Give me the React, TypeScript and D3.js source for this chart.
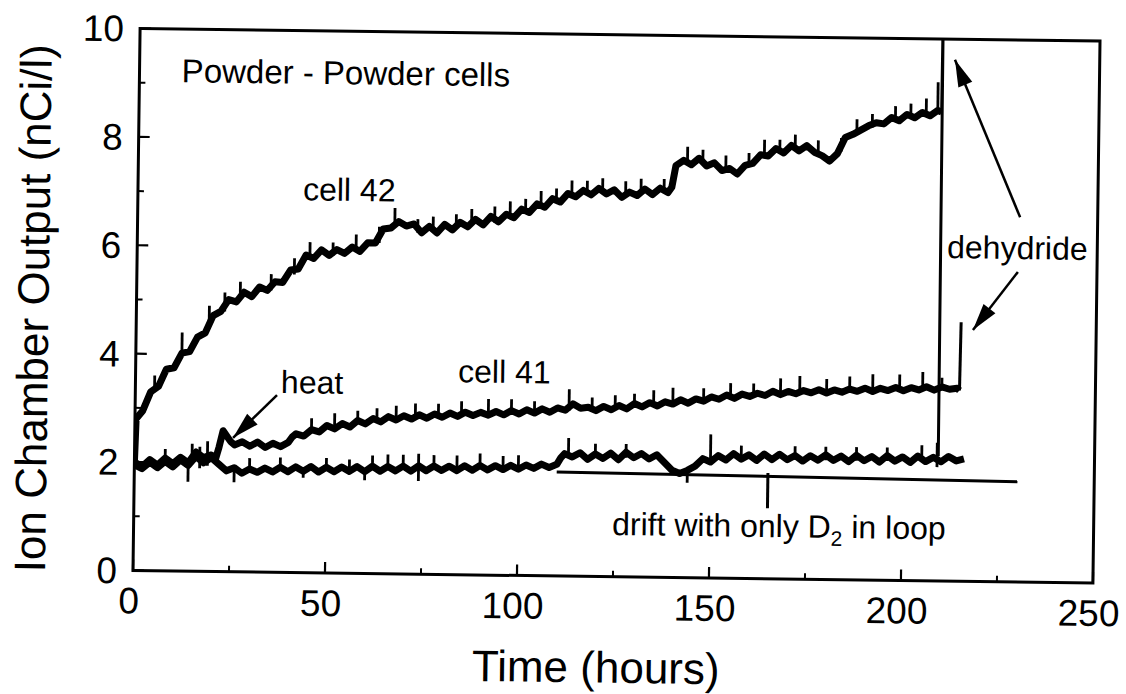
import * as d3 from "d3";

// axis ticks
const X_TICKS = [0, 50, 100, 150, 200, 250];
const X_MINOR = [25, 75, 125, 175, 225];
const Y_TICKS = [0, 2, 4, 6, 8, 10];
const Y_MINOR = [1, 3, 5, 7, 9];

// [time (h), output (nCi/l)]
const cell42 = [
  [0, 2.0], [0.3, 2.8], [2, 2.95], [4, 3.3], [6, 3.4], [8, 3.72], [10, 3.75], [12, 4.02], [14, 4.05],
  [16, 4.32], [18, 4.4], [20, 4.72], [22, 4.8], [24, 5.02], [26, 4.98], [28, 5.16], [30, 5.08],
  [32, 5.26], [34, 5.2], [36, 5.36], [38, 5.35], [40, 5.58], [42, 5.6], [44, 5.86], [46, 5.8],
  [48, 5.96], [50, 5.86], [52, 5.97], [54, 5.9], [56, 6.02], [58, 5.94], [60, 6.1], [62, 6.1],
  [64, 6.36], [66, 6.38], [68, 6.5], [70, 6.42], [72, 6.46], [74, 6.3], [76, 6.42], [78, 6.3],
  [80, 6.46], [82, 6.36], [84, 6.5], [86, 6.42], [88, 6.56], [90, 6.46], [92, 6.62], [94, 6.52],
  [96, 6.66], [98, 6.6], [100, 6.76], [102, 6.7], [104, 6.86], [106, 6.8], [108, 6.96], [110, 6.9],
  [112, 7.06], [114, 7.0], [116, 7.12], [118, 7.04], [120, 7.16], [122, 7.06], [124, 7.14],
  [126, 7.0], [128, 7.1], [130, 7.04], [132, 7.16], [134, 7.06], [136, 7.18], [138, 7.1],
  [139, 7.2], [140, 7.6], [142, 7.7], [144, 7.62], [146, 7.74], [148, 7.6], [150, 7.66],
  [152, 7.52], [154, 7.56], [156, 7.46], [158, 7.62], [160, 7.66], [162, 7.82], [164, 7.8],
  [166, 7.94], [168, 7.86], [170, 8.0], [172, 7.9], [174, 8.0], [176, 7.88], [178, 7.82],
  [180, 7.72], [182, 7.86], [184, 8.16], [186, 8.22], [188, 8.3], [190, 8.38], [192, 8.44],
  [194, 8.42], [196, 8.54], [198, 8.48], [200, 8.6], [202, 8.54], [204, 8.64], [206, 8.58],
  [208, 8.68], [209, 8.65],
];
// cell 42 dehydride: off scale, then back down to the baseline
const cell42Dehydride = [[209, 8.65], [209.1, 10.6], [209.3, 2.3]];

const cell41 = [
  [0, 2.0], [2, 1.92], [4, 2.05], [6, 1.95], [8, 2.08], [10, 1.98], [12, 2.1], [14, 2.0], [16, 2.2],
  [18, 2.1], [20, 2.15], [21, 2.05], [22, 2.3], [23, 2.6], [24, 2.5], [25, 2.4], [26, 2.34],
  [28, 2.4], [30, 2.32], [32, 2.4], [34, 2.3], [36, 2.38], [38, 2.32], [40, 2.4], [41, 2.5],
  [42, 2.56], [44, 2.52], [46, 2.64], [48, 2.6], [50, 2.72], [52, 2.66], [54, 2.76], [56, 2.7],
  [58, 2.82], [60, 2.76], [62, 2.86], [64, 2.8], [66, 2.9], [68, 2.84], [70, 2.92], [72, 2.86],
  [74, 2.94], [76, 2.88], [78, 2.96], [80, 2.9], [82, 2.98], [84, 2.92], [86, 3.0], [88, 2.94],
  [90, 3.0], [92, 2.95], [94, 3.02], [96, 2.96], [98, 3.04], [100, 2.98], [102, 3.06], [104, 3.0],
  [106, 3.08], [108, 3.02], [110, 3.1], [112, 3.06], [114, 3.18], [116, 3.1], [118, 3.12],
  [120, 3.06], [122, 3.14], [124, 3.08], [126, 3.16], [128, 3.1], [130, 3.2], [132, 3.14],
  [134, 3.22], [136, 3.16], [138, 3.24], [140, 3.2], [142, 3.28], [144, 3.22], [146, 3.3],
  [148, 3.26], [150, 3.34], [152, 3.3], [154, 3.38], [156, 3.32], [158, 3.4], [160, 3.36],
  [162, 3.42], [164, 3.38], [166, 3.46], [168, 3.4], [170, 3.46], [172, 3.42], [174, 3.48],
  [176, 3.44], [178, 3.5], [180, 3.44], [182, 3.5], [184, 3.46], [186, 3.52], [188, 3.48],
  [190, 3.54], [192, 3.48], [194, 3.54], [196, 3.5], [198, 3.56], [200, 3.5], [202, 3.56],
  [204, 3.52], [206, 3.58], [208, 3.52], [210, 3.58], [212, 3.54], [214, 3.56], [214.6, 3.52],
];
const cell41Dehydride = [[214.6, 3.52], [214.8, 4.78]];

const baseline = [
  [0, 1.95], [2, 1.88], [4, 2.0], [6, 1.9], [8, 2.02], [10, 1.92], [12, 2.05], [14, 1.95],
  [16, 2.12], [18, 2.0], [20, 2.1], [22, 1.98], [24, 1.86], [26, 1.92], [28, 1.82], [30, 1.9],
  [32, 1.84], [34, 1.92], [36, 1.85], [38, 1.94], [40, 1.86], [42, 1.95], [44, 1.87], [46, 1.96],
  [48, 1.86], [50, 1.95], [52, 1.87], [54, 1.96], [56, 1.88], [58, 1.97], [60, 1.88], [62, 1.98],
  [64, 1.89], [66, 1.98], [68, 1.9], [70, 1.99], [72, 1.9], [74, 2.0], [76, 1.91], [78, 2.0],
  [80, 1.92], [82, 2.0], [84, 1.92], [86, 2.01], [88, 1.93], [90, 2.02], [92, 1.94], [94, 2.02],
  [96, 1.95], [98, 2.03], [100, 1.96], [102, 2.04], [104, 1.98], [106, 2.06], [108, 2.0],
  [110, 2.06], [111, 2.18], [112, 2.26], [114, 2.2], [116, 2.28], [118, 2.16], [120, 2.26],
  [122, 2.18], [124, 2.28], [126, 2.16], [128, 2.3], [130, 2.2], [132, 2.28], [134, 2.18],
  [136, 2.26], [138, 2.12], [140, 1.98], [142, 1.92], [144, 1.98], [146, 2.06], [148, 2.2],
  [150, 2.14], [152, 2.26], [154, 2.18], [156, 2.3], [158, 2.2], [160, 2.28], [162, 2.18],
  [164, 2.3], [166, 2.2], [168, 2.3], [170, 2.2], [172, 2.28], [174, 2.18], [176, 2.28],
  [178, 2.2], [180, 2.3], [182, 2.2], [184, 2.28], [186, 2.18], [188, 2.3], [190, 2.2],
  [192, 2.28], [194, 2.18], [196, 2.3], [198, 2.2], [200, 2.28], [202, 2.18], [204, 2.3],
  [206, 2.2], [208, 2.28], [210, 2.2], [212, 2.3], [214, 2.22], [216, 2.26],
];

// short noise spikes: [time, low, high]
const spikes42 = [
  [5, 3.3, 3.6], [12, 4.0, 4.4], [19, 4.5, 4.9], [23, 4.8, 5.15], [27, 5.05, 5.35], [35, 5.2, 5.5],
  [41, 5.5, 5.8], [45, 5.8, 6.1], [51, 5.85, 6.1], [57, 5.95, 6.25], [63, 6.1, 6.4],
  [67, 6.4, 6.75], [73, 6.3, 6.55], [77, 6.35, 6.6], [83, 6.4, 6.65], [87, 6.45, 6.75],
  [93, 6.5, 6.8], [97, 6.6, 6.9], [101, 6.7, 6.95], [105, 6.8, 7.1], [109, 6.9, 7.15],
  [113, 7.0, 7.3], [117, 7.05, 7.3], [121, 7.1, 7.35], [127, 7.05, 7.3], [131, 7.05, 7.35],
  [137, 7.1, 7.35], [143, 7.65, 7.95], [147, 7.65, 7.9], [153, 7.5, 7.8], [159, 7.6, 7.85],
  [163, 7.8, 8.1], [167, 7.85, 8.1], [171, 7.95, 8.2], [177, 7.85, 8.1], [183, 7.9, 8.15],
  [187, 8.25, 8.5], [191, 8.35, 8.6], [197, 8.5, 8.75], [201, 8.55, 8.8], [205, 8.6, 8.9],
  [208, 8.65, 9.2],
];
const spikes41 = [
  [46, 2.6, 2.85], [52, 2.7, 2.95], [58, 2.75, 3.0], [63, 2.8, 3.05], [68, 2.85, 3.1],
  [73, 2.9, 3.15], [79, 2.9, 3.15], [85, 2.95, 3.2], [92, 2.95, 3.25], [98, 3.0, 3.25],
  [104, 3.0, 3.22], [113, 3.05, 3.45], [119, 3.08, 3.3], [125, 3.1, 3.35], [130, 3.15, 3.38],
  [135, 3.15, 3.45], [140, 3.2, 3.5], [148, 3.25, 3.5], [155, 3.3, 3.6], [161, 3.35, 3.6],
  [168, 3.4, 3.7], [173, 3.4, 3.75], [180, 3.45, 3.7], [186, 3.45, 3.75], [192, 3.5, 3.8],
  [199, 3.5, 3.8], [205, 3.5, 3.85], [210, 3.52, 3.75],
];
const spikesBase = [
  [8, 1.95, 2.25], [15, 2.0, 2.35], [17, 1.9, 2.3], [19, 1.95, 2.4], [14, 1.65, 1.95],
  [26, 1.65, 1.9], [30, 1.85, 2.1], [38, 1.9, 2.12], [44, 1.75, 1.95], [50, 1.9, 2.12],
  [56, 1.9, 2.1], [60, 1.72, 1.9], [62, 1.92, 2.18], [66, 1.92, 2.2], [70, 1.95, 2.2],
  [74, 1.72, 2.22], [78, 1.95, 2.2], [84, 1.95, 2.2], [90, 1.98, 2.24], [96, 1.98, 2.2],
  [100, 1.98, 2.22], [113, 2.2, 2.55], [120, 2.2, 2.45], [128, 2.2, 2.45], [144, 1.75, 1.95],
  [150, 2.15, 2.65], [158, 2.2, 2.45], [172, 2.2, 2.45], [180, 2.2, 2.45], [188, 2.2, 2.45],
  [196, 2.2, 2.45], [205, 2.2, 2.5], [209, 2.1, 2.55],
];

// straight drift line with only D2 in the loop
const drift = [[110, 1.92], [230, 1.85]];
const driftPointer = [[165, 1.95], [165, 1.3]];

// annotation arrows: [tail, tip]
const arrows = [
  { from: [36.9, 3.27], to: [25.6, 2.47] },
  { from: [229.8, 6.73], to: [212.3, 9.62] },
  { from: [229.4, 5.72], to: [217.9, 4.64] },
];

const labels = [
  { text: "Powder - Powder cells", t: 11, v: 9.02 },
  { text: "cell 42", t: 43, v: 6.87 },
  { text: "heat", t: 37.9, v: 3.31 },
  { text: "cell 41", t: 84, v: 3.55 },
  { text: "dehydride", t: 210.9, v: 5.96 },
];

const W = 1126;
const H = 694;
const frame = { left: 136.5, right: 1096.5, top: 34.75, bottom: 576.75 };
const TILT = 0.75; // the scan is slightly rotated
const FONT = "'Liberation Sans', Arial, Helvetica, sans-serif";

export default function App() {
  const x = d3.scaleLinear().domain([0, 250]).range([frame.left, frame.right]);
  const y = d3.scaleLinear().domain([0, 10]).range([frame.bottom, frame.top]);
  const line = d3.line<number[]>().x((d) => x(d[0])).y((d) => y(d[1]));
  const cx = (frame.left + frame.right) / 2;
  const cy = (frame.top + frame.bottom) / 2;

  const arrowHead = (from: number[], to: number[], len = 27, half = 7.5) => {
    const x1 = x(from[0]), y1 = y(from[1]);
    const x2 = x(to[0]), y2 = y(to[1]);
    const a = Math.atan2(y2 - y1, x2 - x1);
    const bx = x2 - len * Math.cos(a), by = y2 - len * Math.sin(a);
    const px = -Math.sin(a) * half, py = Math.cos(a) * half;
    return `M${x2},${y2}L${bx + px},${by + py}L${bx - px},${by - py}Z`;
  };

  const spikeLines = (list: number[][], key: string) =>
    list.map((s, i) => (
      <line key={key + i} x1={x(s[0])} x2={x(s[0])} y1={y(s[1])} y2={y(s[2])} stroke="#000" strokeWidth={2.8} />
    ));

  return (
    <svg width={W} height={H} style={{ position: "absolute", left: 0, top: 0, background: "#fff" }} fontFamily={FONT}>
      <defs>
        <clipPath id="plotClip">
          <rect x={frame.left} y={frame.top} width={frame.right - frame.left} height={frame.bottom - frame.top} />
        </clipPath>
      </defs>
      <g transform={`rotate(${TILT},${cx},${cy})`}>
        {/* frame */}
        <rect x={frame.left} y={frame.top} width={frame.right - frame.left} height={frame.bottom - frame.top}
          fill="none" stroke="#000" strokeWidth={3} />

        {/* ticks */}
        {X_TICKS.map((t) => (
          <line key={"xt" + t} x1={x(t)} x2={x(t)} y1={frame.bottom} y2={frame.bottom - 11} stroke="#000" strokeWidth={2.2} />
        ))}
        {X_MINOR.map((t) => (
          <line key={"xm" + t} x1={x(t)} x2={x(t)} y1={frame.bottom} y2={frame.bottom - 6} stroke="#000" strokeWidth={2} />
        ))}
        {Y_TICKS.map((v) => (
          <line key={"yt" + v} x1={frame.left} x2={frame.left + 11} y1={y(v)} y2={y(v)} stroke="#000" strokeWidth={2.2} />
        ))}
        {Y_MINOR.map((v) => (
          <line key={"ym" + v} x1={frame.left} x2={frame.left + 6} y1={y(v)} y2={y(v)} stroke="#000" strokeWidth={2} />
        ))}

        {/* tick labels */}
        {X_TICKS.map((t) => (
          <text key={"xl" + t} x={x(t) - 4} y={frame.bottom + 43} textAnchor="middle" fontSize={37}>{t}</text>
        ))}
        {Y_TICKS.map((v) => (
          <text key={"yl" + v} x={frame.left - 16} y={y(v) + 13} textAnchor="end" fontSize={37}>{v}</text>
        ))}

        {/* axis titles */}
        <text x={cx - 16} y={frame.bottom + 106} textAnchor="middle" fontSize={44}>Time (hours)</text>
        <text transform={`translate(${frame.left - 88},${cy + 10}) rotate(-90)`} textAnchor="middle" fontSize={44}>
          Ion Chamber Output (nCi/l)
        </text>

        {/* data */}
        <g clipPath="url(#plotClip)" fill="none" stroke="#000" strokeLinejoin="round">
          <path d={line(baseline) ?? ""} strokeWidth={7} />
          <path d={line(cell41) ?? ""} strokeWidth={7} />
          <path d={line(cell42) ?? ""} strokeWidth={7} />
          <path d={line(cell42Dehydride) ?? ""} strokeWidth={3} />
          <path d={line(cell41Dehydride) ?? ""} strokeWidth={3} />
          {spikeLines(spikesBase, "sb")}
          {spikeLines(spikes41, "s41")}
          {spikeLines(spikes42, "s42")}
          <path d={line(drift) ?? ""} strokeWidth={3} />
          <path d={line(driftPointer) ?? ""} strokeWidth={3} />
        </g>

        {/* arrows */}
        {arrows.map((a, i) => (
          <g key={"ar" + i}>
            <line x1={x(a.from[0])} y1={y(a.from[1])} x2={x(a.to[0])} y2={y(a.to[1])} stroke="#000" strokeWidth={2.5} />
            <path d={arrowHead(a.from, a.to)} fill="#000" />
          </g>
        ))}

        {/* labels */}
        {labels.map((l) => (
          <text key={l.text} x={x(l.t)} y={y(l.v)} fontSize={l.text.startsWith("Powder") ? 33 : 32}>{l.text}</text>
        ))}
        <text x={x(124.6)} y={y(0.77)} fontSize={32}>
          drift with only D<tspan fontSize={21} dy={8}>2</tspan>
          <tspan dy={-8}> in loop</tspan>
        </text>
      </g>
    </svg>
  );
}
